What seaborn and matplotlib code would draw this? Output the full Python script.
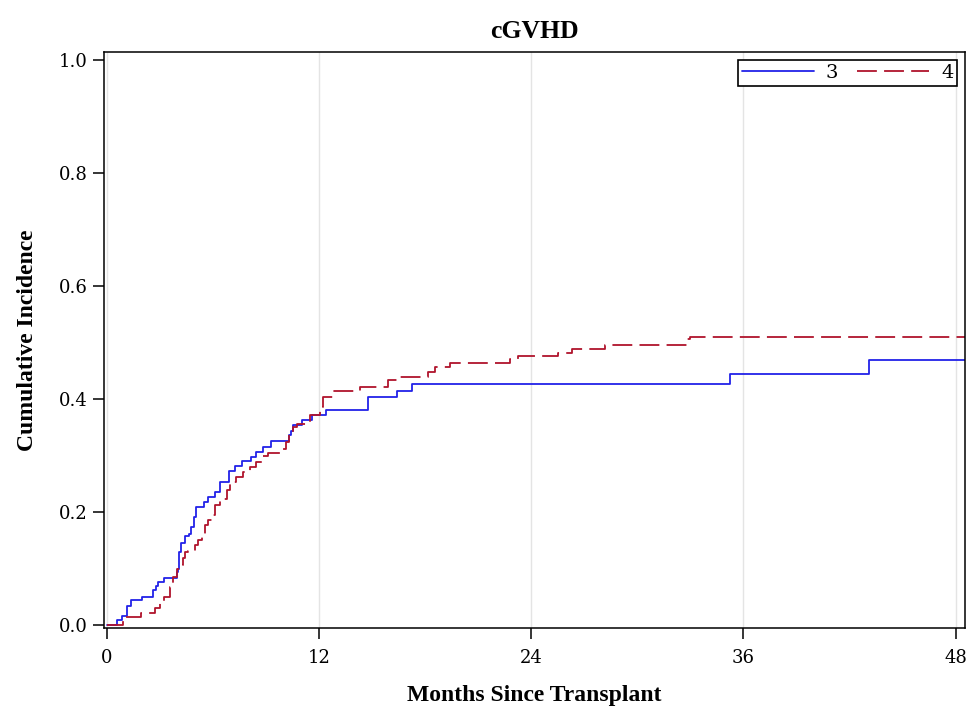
import pandas as pd
import seaborn as sns
import matplotlib.pyplot as plt

# Step points (months, incidence)
months_3 = [0, 0.58, 0.83, 1.11, 1.34, 1.96, 2.58, 2.77, 2.90, 3.22, 3.94, 4.00, 4.05,
            4.10, 4.20, 4.43, 4.62, 4.77, 4.95, 5.05, 5.50, 5.73, 6.11, 6.39, 6.92, 7.24,
            7.62, 8.13, 8.43, 8.84, 9.26, 10.31, 10.39, 10.54, 11.01, 11.60, 12.40, 14.78,
            16.42, 17.27, 35.24, 43.10, 48.6]
cuminc_3 = [0, 0.009, 0.016, 0.034, 0.044, 0.050, 0.062, 0.069, 0.077, 0.084, 0.094, 0.100,
            0.115, 0.130, 0.146, 0.158, 0.162, 0.174, 0.192, 0.209, 0.218, 0.227, 0.236,
            0.254, 0.273, 0.281, 0.290, 0.298, 0.307, 0.316, 0.326, 0.336, 0.344, 0.354,
            0.363, 0.372, 0.381, 0.403, 0.415, 0.427, 0.445, 0.469, 0.469]

months_4 = [0, 0.92, 1.90, 2.70, 3.00, 3.20, 3.56, 3.75, 3.98, 4.12, 4.28, 4.41, 4.60, 4.98,
            5.17, 5.36, 5.54, 5.73, 5.92, 6.11, 6.39, 6.77, 6.96, 7.30, 7.67, 8.09, 8.43,
            8.75, 9.12, 9.79, 10.12, 10.31, 10.50, 10.73, 11.48, 12.05, 12.24, 12.80, 14.31,
            15.91, 16.57, 18.17, 18.55, 19.40, 22.79, 23.26, 25.53, 26.28, 28.17, 32.79,
            32.97, 48.6]
cuminc_4 = [0, 0.015, 0.022, 0.030, 0.043, 0.050, 0.068, 0.086, 0.100, 0.106, 0.118, 0.130,
            0.132, 0.142, 0.150, 0.162, 0.177, 0.186, 0.195, 0.212, 0.224, 0.239, 0.254,
            0.262, 0.271, 0.280, 0.289, 0.299, 0.304, 0.311, 0.324, 0.339, 0.351, 0.356,
            0.372, 0.386, 0.404, 0.415, 0.422, 0.434, 0.439, 0.448, 0.457, 0.463, 0.470,
            0.476, 0.482, 0.488, 0.496, 0.506, 0.510, 0.510]

groups = ['3', '4']
x_ticks = [0, 12, 24, 36, 48]
y_ticks = [0.0, 0.2, 0.4, 0.6, 0.8, 1.0]

df = pd.concat([
    pd.DataFrame({'Months': months_3, 'CumInc': cuminc_3, 'Group': '3'}),
    pd.DataFrame({'Months': months_4, 'CumInc': cuminc_4, 'Group': '4'}),
], ignore_index=True)

sns.set_style('white')
plt.rcParams['font.family'] = ['DejaVu Serif']
plt.rcParams['text.color'] = 'black'

fig = plt.figure(figsize=(9.68, 7.08), dpi=100)
ax = fig.add_axes([0.1074, 0.113, 0.8895, 0.8136])

sns.lineplot(data=df, x='Months', y='CumInc', hue='Group', style='Group',
             hue_order=groups, style_order=groups,
             palette={'3': '#2222E8', '4': '#B0142C'},
             dashes={'3': '', '4': (11, 4)},
             drawstyle='steps-post', estimator=None, sort=False,
             linewidth=1.3, legend=False, ax=ax)

ax.set_xlim(-0.17, 48.53)
ax.set_ylim(-0.005, 1.014)
ax.set_xticks(x_ticks)
ax.set_yticks(y_ticks)
ax.set_yticklabels([f'{v:.1f}' for v in y_ticks])
ax.tick_params(axis='both', direction='out', length=8, width=1.1, color='black',
               labelsize=13, labelcolor='black', bottom=True, left=True)
ax.tick_params(axis='x', pad=7)
ax.tick_params(axis='y', pad=4)

ax.grid(False)
ax.xaxis.grid(True, color='#E4E4E4', linewidth=1.0)
ax.set_axisbelow(True)
for s in ax.spines.values():
    s.set_visible(True)
    s.set_color('black')
    s.set_linewidth(1.1)

bold = dict(family='Liberation Serif', weight='bold', color='black')
ax.set_title('cGVHD', fontsize=18.5, pad=10, **bold)
ax.set_xlabel('Months Since Transplant', fontsize=17, **bold)
ax.set_ylabel('Cumulative Incidence', fontsize=17, **bold)
ax.xaxis.set_label_coords(0.5, -0.099)
ax.xaxis.label.set_va('top')
ax.yaxis.set_label_coords(-0.077, 0.5)

leg = ax.legend(handles=ax.lines[:2], labels=groups, loc='upper right', ncol=2,
                frameon=True, fancybox=False, framealpha=1, edgecolor='black',
                handlelength=3.7, handletextpad=0.6, columnspacing=1.0,
                borderpad=0.2, borderaxespad=0.4,
                prop={'family': 'DejaVu Serif', 'size': 14})
leg.get_frame().set_linewidth(1.2)
for t in leg.get_texts():
    t.set_color('black')

plt.savefig('out.png', dpi=100)
plt.close()
